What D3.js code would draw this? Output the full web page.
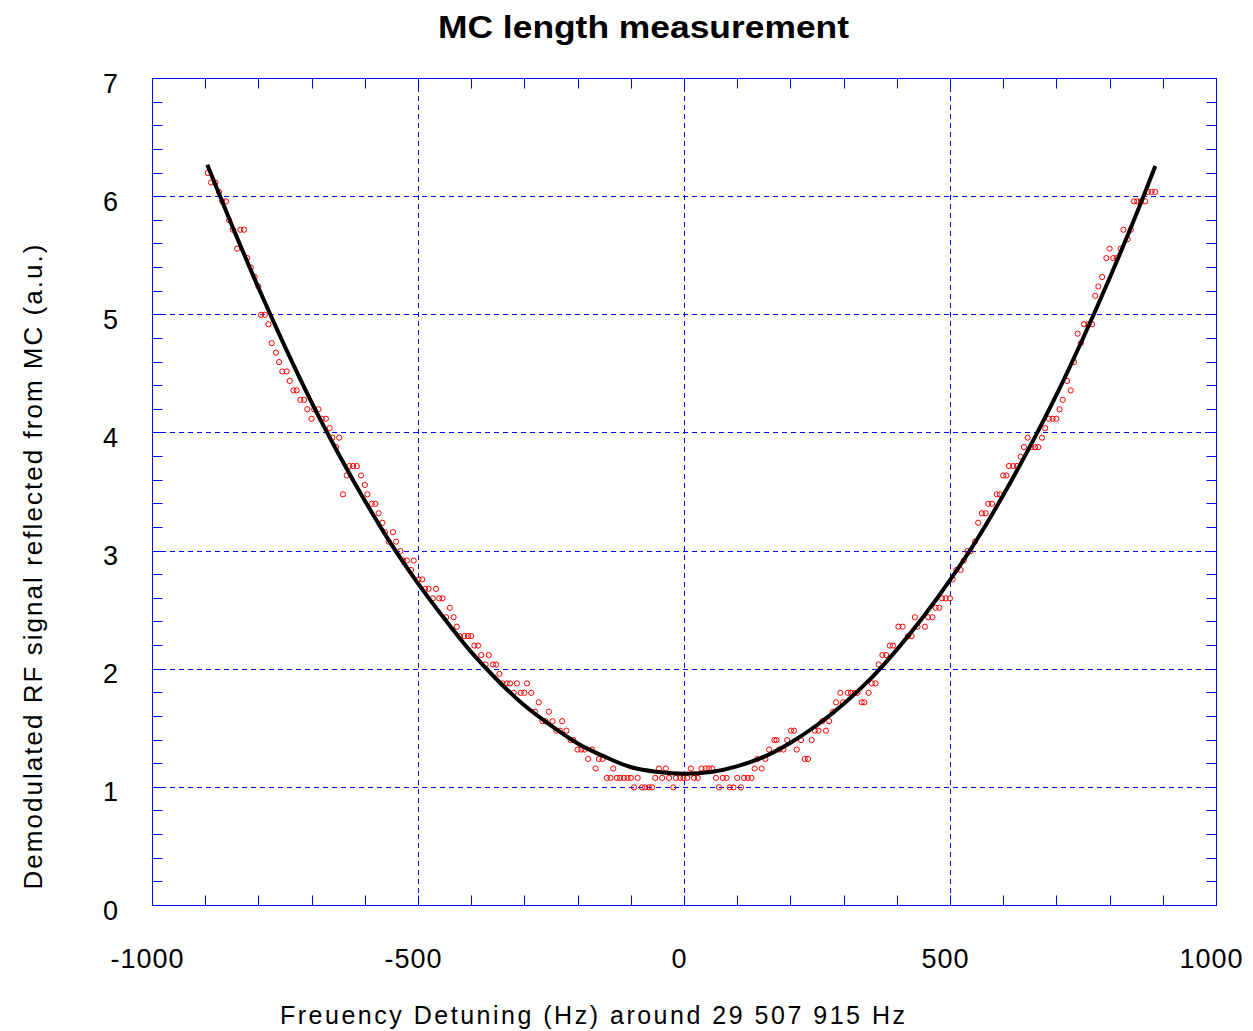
<!DOCTYPE html>
<html>
<head>
<meta charset="utf-8">
<script src="https://cdn.jsdelivr.net/npm/d3@7.9.0/dist/d3.min.js"></script>
<style>
  body { margin: 0; background: #fff; }
  text { font-family: "Liberation Sans", Arial, sans-serif; fill: #000; }
</style>
</head>
<body>
<div id="chart"></div>
<script>
// measured points: detuning (Hz) and demodulated signal (a.u.)
const detuning = [
  -896, -890, -882, -875, -869, -862, -856, -849, -841, -835, -828, -822, -815, -808, -801,
  -796, -789, -782, -776, -768, -762, -756, -748, -742, -735, -729, -722, -715, -709, -701,
  -696, -688, -682, -674, -667, -662, -655, -649, -642, -635, -630, -623, -616, -608, -601,
  -596, -588, -581, -575, -568, -563, -556, -548, -542, -534, -529, -522, -514, -509, -500,
  -493, -488, -481, -473, -467, -461, -455, -448, -441, -434, -428, -422, -414, -407, -401,
  -395, -388, -382, -374, -368, -360, -354, -348, -342, -334, -328, -321, -315, -308, -301,
  -296, -288, -281, -274, -267, -261, -255, -248, -241, -234, -230, -222, -214, -209, -201,
  -194, -188, -181, -174, -167, -161, -154, -146, -139, -134, -127, -121, -114, -107, -101,
  -95, -88, -80, -74, -67, -61, -55, -48, -42, -35, -29, -21, -16, -8, -2,
  5, 12, 18, 25, 32, 40, 46, 52, 59, 65, 72, 79, 85, 92, 99,
  106, 112, 119, 126, 132, 137, 145, 152, 159, 169, 173, 178, 186, 193, 200,
  206, 211, 219, 226, 232, 239, 245, 252, 259, 266, 272, 279, 285, 293, 298,
  307, 313, 320, 325, 333, 338, 346, 352, 359, 365, 372, 379, 386, 392, 402,
  410, 420, 427, 433, 438, 452, 458, 466, 472, 479, 484, 491, 499, 504, 511,
  519, 525, 532, 538, 546, 552, 559, 566, 571, 578, 587, 593, 599, 605, 610,
  618, 625, 632, 638, 645, 652, 659, 665, 672, 678, 685, 692, 699, 705, 711,
  719, 726, 732, 739, 745, 751, 759, 766, 772, 778, 785, 793, 799, 806, 812,
  820, 825, 833, 839, 845, 851, 858, 866, 871, 878, 885
];
const signal = [
  6.20, 6.12, 6.12, 6.04, 5.96, 5.96, 5.80, 5.72, 5.56, 5.72, 5.72, 5.48, 5.40, 5.32, 5.24,
  5.00, 5.00, 4.92, 4.76, 4.68, 4.60, 4.52, 4.52, 4.44, 4.36, 4.36, 4.28, 4.28, 4.20, 4.12,
  4.20, 4.20, 4.12, 4.12, 4.04, 3.96, 3.88, 3.96, 3.48, 3.64, 3.72, 3.72, 3.72, 3.64, 3.56,
  3.48, 3.40, 3.40, 3.32, 3.24, 3.16, 3.08, 3.16, 3.08, 3.00, 2.92, 2.92, 2.84, 2.92, 2.76,
  2.76, 2.68, 2.68, 2.60, 2.68, 2.60, 2.60, 2.44, 2.52, 2.44, 2.36, 2.28, 2.28, 2.28, 2.28,
  2.20, 2.20, 2.12, 2.04, 2.12, 2.04, 2.04, 1.96, 1.88, 1.88, 1.88, 1.80, 1.88, 1.80, 1.80,
  1.88, 1.80, 1.64, 1.72, 1.56, 1.56, 1.64, 1.56, 1.48, 1.48, 1.56, 1.48, 1.40, 1.40, 1.32,
  1.32, 1.32, 1.24, 1.32, 1.16, 1.24, 1.24, 1.08, 1.08, 1.16, 1.08, 1.08, 1.08, 1.08, 1.08,
  1.00, 1.08, 1.00, 1.00, 1.00, 1.00, 1.08, 1.16, 1.08, 1.16, 1.08, 1.00, 1.08, 1.08, 1.08,
  1.08, 1.16, 1.08, 1.08, 1.16, 1.16, 1.16, 1.16, 1.08, 1.00, 1.08, 1.08, 1.00, 1.00, 1.08,
  1.00, 1.08, 1.08, 1.08, 1.16, 1.24, 1.16, 1.24, 1.32, 1.40, 1.40, 1.32, 1.32, 1.40, 1.48,
  1.48, 1.32, 1.40, 1.24, 1.24, 1.40, 1.48, 1.48, 1.56, 1.48, 1.56, 1.64, 1.72, 1.80, 1.72,
  1.80, 1.80, 1.80, 1.80, 1.72, 1.72, 1.80, 1.88, 1.88, 2.04, 2.12, 2.12, 2.20, 2.20, 2.36,
  2.36, 2.28, 2.28, 2.44, 2.36, 2.36, 2.44, 2.44, 2.52, 2.52, 2.60, 2.60, 2.60, 2.76, 2.84,
  2.84, 2.92, 3.00, 3.00, 3.08, 3.24, 3.32, 3.32, 3.40, 3.40, 3.48, 3.48, 3.64, 3.64, 3.72,
  3.72, 3.72, 3.80, 3.88, 3.96, 3.88, 3.88, 3.88, 3.96, 4.04, 4.12, 4.12, 4.12, 4.20, 4.28,
  4.44, 4.36, 4.60, 4.84, 4.76, 4.92, 4.92, 4.92, 5.16, 5.24, 5.32, 5.48, 5.56, 5.48, 5.48,
  5.56, 5.72, 5.64, 5.72, 5.96, 5.96, 5.96, 5.96, 6.04, 6.04, 6.04
];

// fitted curve
const fitDetuning = [
  -897, -850, -800, -750, -700, -650, -600, -550, -500, -450, -400, -350, -300, -250, -200,
  -150, -100, -50, 0, 50, 100, 150, 200, 250, 300, 350, 400, 450, 500, 550,
  600, 650, 700, 750, 800, 850, 885
];
const fitSignal = [
  6.27, 5.75, 5.22, 4.72, 4.25, 3.82, 3.42, 3.05, 2.72, 2.42, 2.14, 1.90, 1.69, 1.52, 1.37,
  1.26, 1.17, 1.13, 1.115, 1.13, 1.18, 1.26, 1.38, 1.53, 1.71, 1.92, 2.17, 2.45, 2.76, 3.10,
  3.48, 3.89, 4.33, 4.81, 5.32, 5.86, 6.26
];

const xLabels = [-1000, -500, 0, 500, 1000];
const yLabels = [0, 1, 2, 3, 4, 5, 6, 7];
const xGrid = [-500, 0, 500];
const yGrid = [1, 2, 3, 4, 5, 6];

const width = 1253;
const height = 1031;
const plot = { left: 152, right: 1216, top: 78, bottom: 905 };
const blue = "#0000ff";

const svg = d3.select("#chart").append("svg")
  .attr("width", width)
  .attr("height", height);

const x = d3.scaleLinear().domain([-1000, 1000]).range([plot.left + 0.5, plot.right + 0.5]);
const y = d3.scaleLinear().domain([0, 7]).range([plot.bottom + 0.5, plot.top + 0.5]);
// pixel-snapped copies for grid and ticks (axis adds the half pixel)
const xr = d3.scaleLinear().domain([-1000, 1000]).rangeRound([plot.left, plot.right]);
const yr = d3.scaleLinear().domain([0, 7]).rangeRound([plot.bottom, plot.top]);

// dashed grid
const grid = svg.append("g").attr("stroke", blue).attr("stroke-width", 1)
  .attr("stroke-dasharray", "5,4");
grid.selectAll(".gx").data(xGrid).join("line")
  .attr("x1", d => xr(d) + 0.5).attr("x2", d => xr(d) + 0.5)
  .attr("y1", plot.top).attr("y2", plot.bottom);
grid.selectAll(".gy").data(yGrid).join("line")
  .attr("x1", plot.left).attr("x2", plot.right)
  .attr("y1", d => yr(d) + 0.5).attr("y2", d => yr(d) + 0.5);

// inward ticks on all four sides
const xTicks = d3.range(-900, 1000, 100);
const yTicks = d3.range(1, 35).map(d => d / 5);

svg.append("g").attr("transform", `translate(0,${plot.bottom + 0.5})`)
  .call(d3.axisBottom(xr).tickValues(xTicks).tickSize(-10).tickFormat(""));
svg.append("g").attr("transform", `translate(0,${plot.top + 0.5})`)
  .call(d3.axisTop(xr).tickValues(xTicks).tickSize(-10).tickFormat(""));
svg.append("g").attr("transform", `translate(${plot.left + 0.5},0)`)
  .call(d3.axisLeft(yr).tickValues(yTicks).tickSize(-10).tickFormat(""));
svg.append("g").attr("transform", `translate(${plot.right + 0.5},0)`)
  .call(d3.axisRight(yr).tickValues(yTicks).tickSize(-10).tickFormat(""));
svg.selectAll(".domain").remove();
svg.selectAll(".tick line").attr("stroke", blue);

// frame
svg.append("rect")
  .attr("x", plot.left + 0.5).attr("y", plot.top + 0.5)
  .attr("width", plot.right - plot.left).attr("height", plot.bottom - plot.top)
  .attr("fill", "none").attr("stroke", blue).attr("stroke-width", 1);

// tick labels
svg.append("g").selectAll("text").data(xLabels).join("text")
  .attr("x", d => x(d) - 5)
  .attr("y", 968)
  .attr("text-anchor", "middle")
  .style("font-size", "27px")
  .style("letter-spacing", "1px")
  .text(d => d);

svg.append("g").selectAll("text").data(yLabels).join("text")
  .attr("x", 118)
  .attr("y", d => y(d) + 14)
  .attr("text-anchor", "end")
  .style("font-size", "27px")
  .text(d => d);

// measured points
svg.append("g").selectAll("circle").data(detuning).join("circle")
  .attr("cx", d => x(d))
  .attr("cy", (d, i) => y(signal[i]))
  .attr("r", 2.6)
  .attr("fill", "none")
  .attr("stroke", "#ff0000")
  .attr("stroke-width", 1);

// fit curve
const line = d3.line()
  .x(d => x(d[0]))
  .y(d => y(d[1]))
  .curve(d3.curveCatmullRom);

svg.append("path")
  .datum(d3.zip(fitDetuning, fitSignal))
  .attr("d", line)
  .attr("fill", "none")
  .attr("stroke", "#000")
  .attr("stroke-width", 4);

// titles
svg.append("text")
  .attr("x", 643.5).attr("y", 38)
  .attr("text-anchor", "middle")
  .attr("textLength", 411).attr("lengthAdjust", "spacingAndGlyphs")
  .style("font-size", "31px").style("font-weight", "bold")
  .text("MC length measurement");

svg.append("text")
  .attr("x", 592.5).attr("y", 1024)
  .attr("text-anchor", "middle")
  .attr("textLength", 625).attr("lengthAdjust", "spacing")
  .style("font-size", "25px")
  .text("Freuency Detuning (Hz) around 29 507 915 Hz");

svg.append("text")
  .attr("transform", "translate(42,567) rotate(-90)")
  .attr("text-anchor", "middle")
  .attr("textLength", 645).attr("lengthAdjust", "spacing")
  .style("font-size", "26px")
  .text("Demodulated RF signal reflected from MC (a.u.)");
</script>
</body>
</html>
